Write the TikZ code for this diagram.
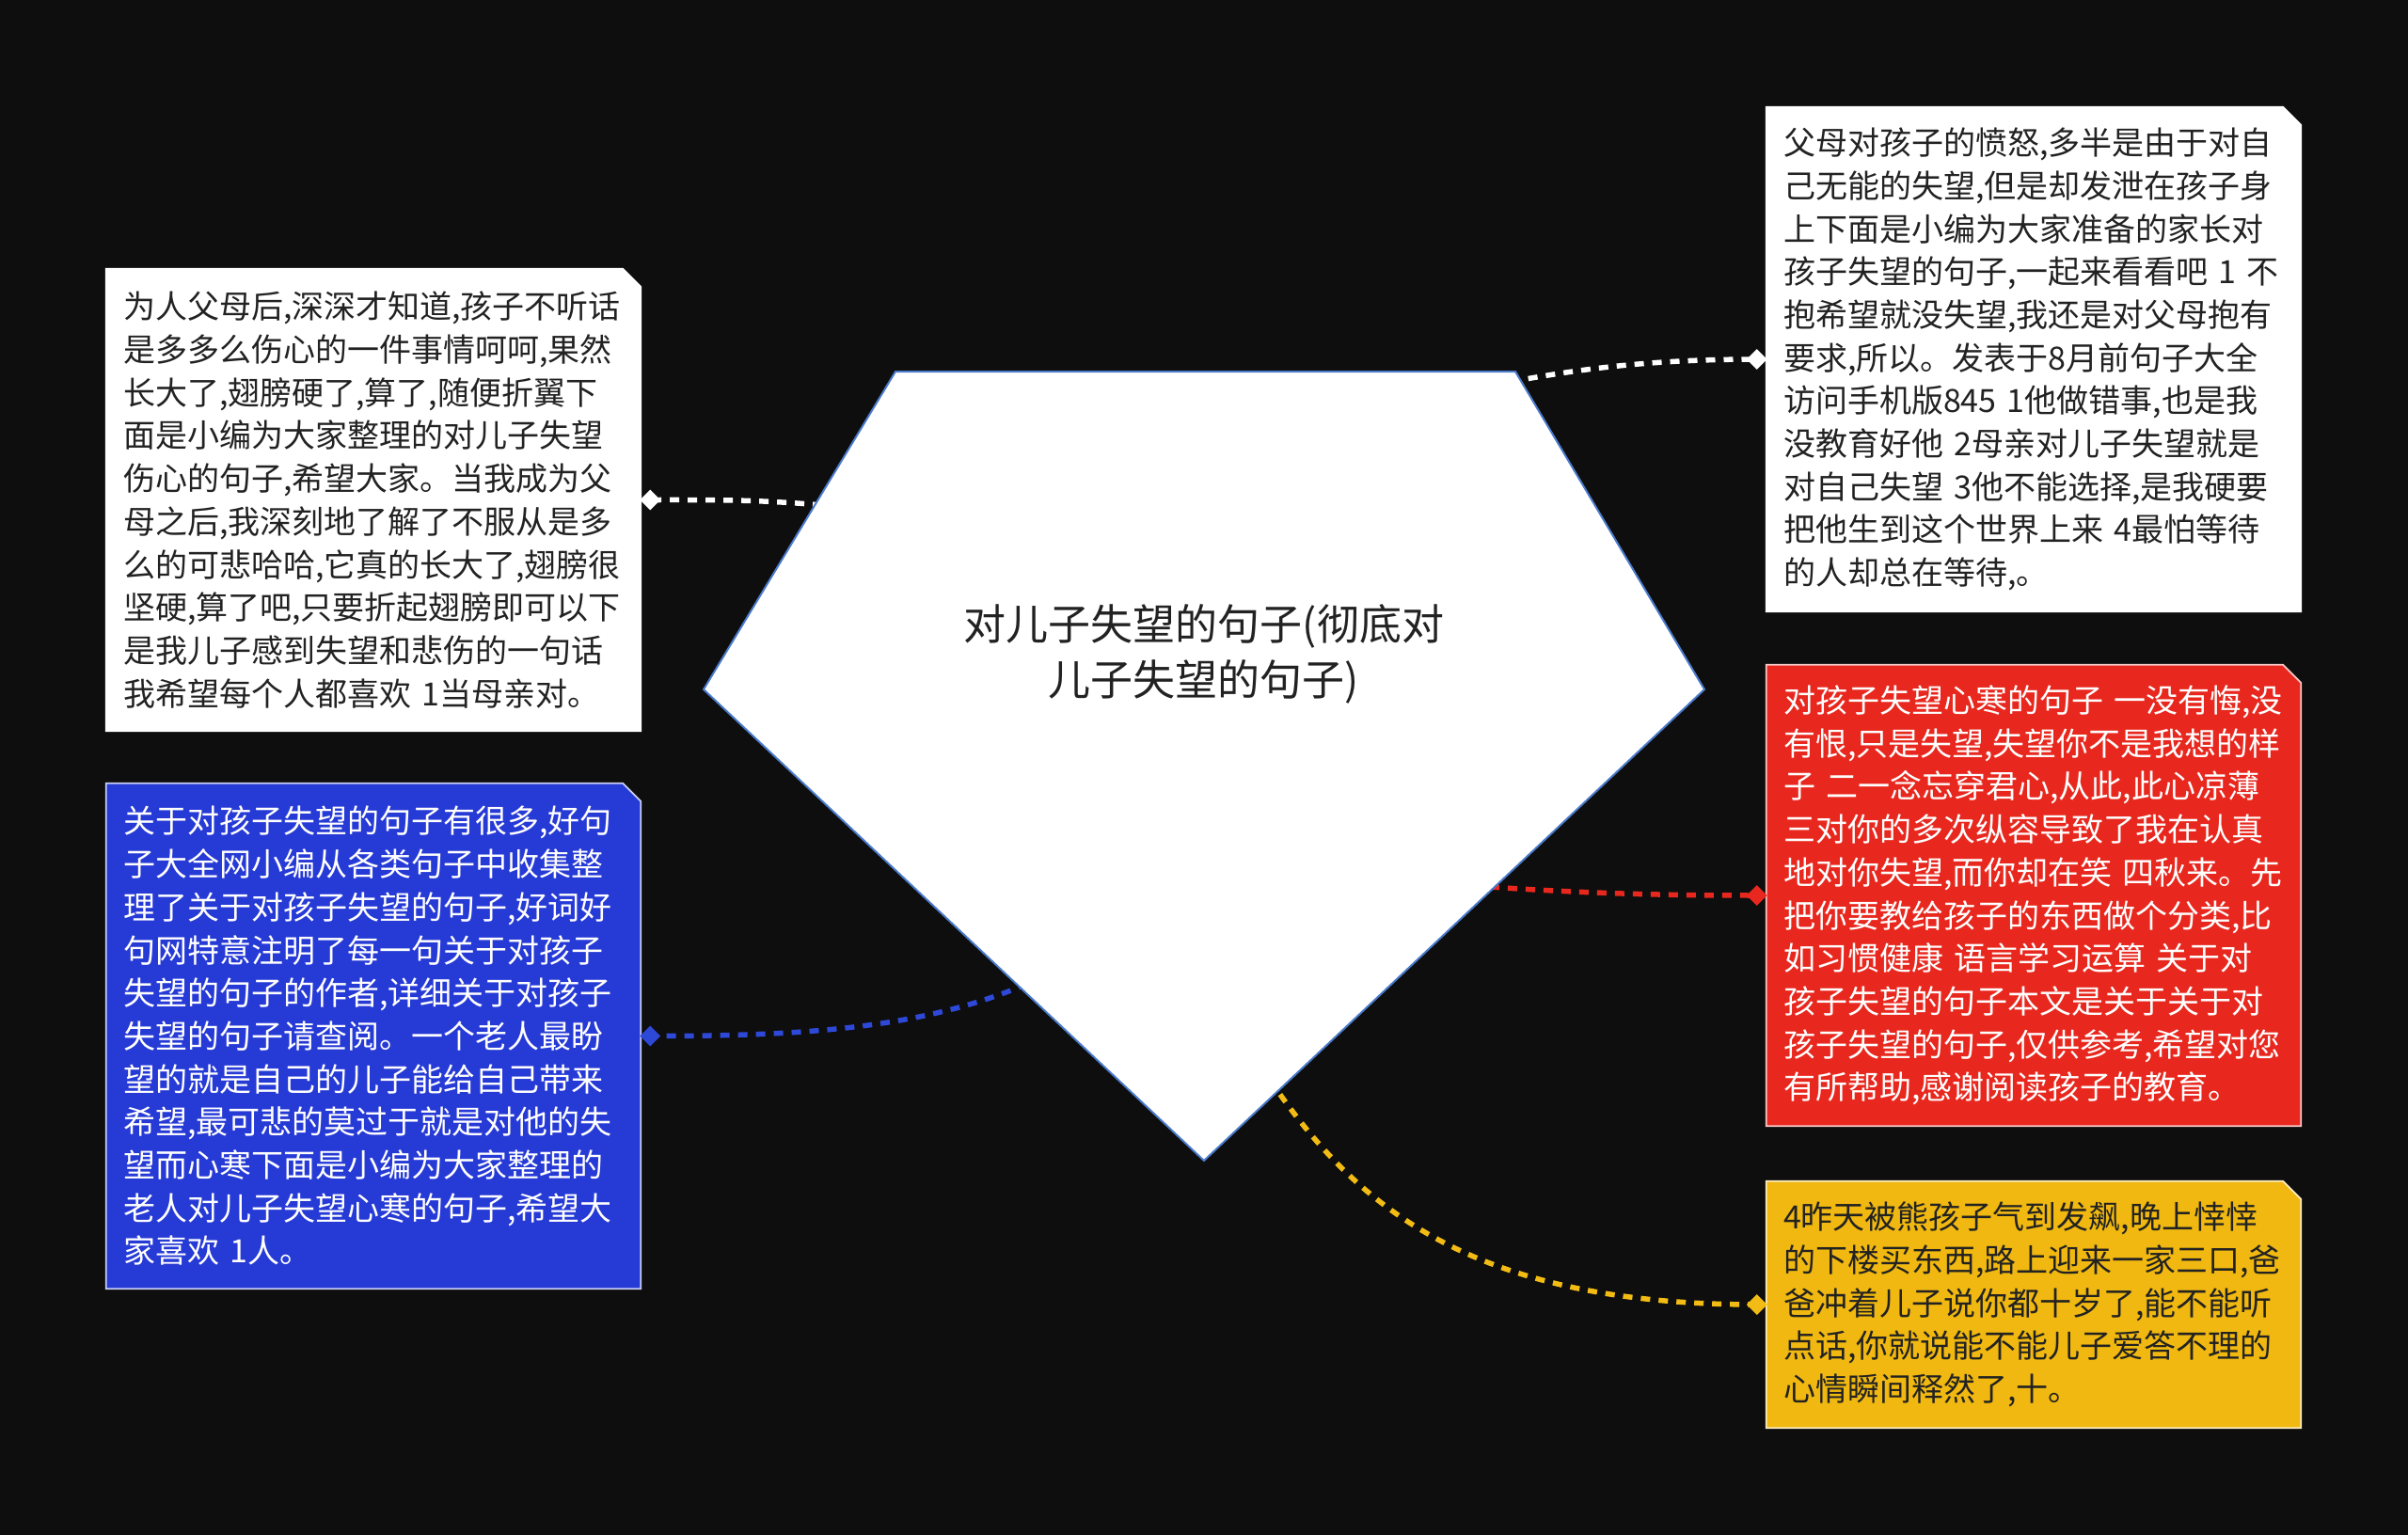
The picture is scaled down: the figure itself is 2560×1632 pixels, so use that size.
\documentclass[tikz,border=0pt]{standalone}
\usepackage{fontspec}
\newfontfamily\cjk{Noto Sans CJK SC}
\usetikzlibrary{shapes.geometric}
\definecolor{bgc}{RGB}{14,14,14}
\definecolor{redc}{RGB}{232,40,30}
\definecolor{bluec}{RGB}{38,58,214}
\definecolor{yelc}{RGB}{240,184,16}
\definecolor{bluel}{RGB}{46,72,216}
\definecolor{yell}{RGB}{242,188,20}
\definecolor{gemb}{RGB}{74,123,203}
\definecolor{darkt}{RGB}{34,34,34}
\pgfdeclarelayer{bglayer}
\pgfdeclarelayer{linklayer}
\pgfdeclarelayer{shapelayer}
\pgfsetlayers{bglayer,linklayer,shapelayer,main}
\newcommand\chambox[3]{%
  \filldraw[fill=#2, draw=#3, line width=1.8pt, line join=miter]
    (#1.south west) -- (#1.north west) -- ([xshift=-19pt]#1.north east)
    -- ([yshift=-19pt]#1.north east) -- (#1.south east) -- cycle;}
\begin{document}
\begin{tikzpicture}[x=1pt,y=-1pt,
  boxtext/.style={inner xsep=18pt, inner ysep=0pt, text width=532pt, align=left,
    font=\cjk\fontsize{34pt}{45.7pt}\selectfont},
  roottext/.style={inner sep=0pt, align=center, text=darkt,
    font=\cjk\fontsize{45pt}{59pt}\selectfont},
  marker/.style={diamond, inner sep=0pt, minimum width=22pt, minimum height=22pt},
  link/.style={line width=5.5pt, dash pattern=on 10pt off 9pt}]
\useasboundingbox (0,0) rectangle (2560,1632);
% text nodes
\node[roottext] (root) at (1280,695) {对儿子失望的句子(彻底对\\儿子失望的句子)};
\node[boxtext, text=darkt, minimum height=491pt] (b1) at (397,531.5) {%
为人父母后,深深才知道,孩子不听话\\
是多多么伤心的一件事情呵呵,果然\\
长大了,翅膀硬了,算了,随便折翼下\\
面是小编为大家整理的对儿子失望\\
伤心的句子,希望大家。当我成为父\\
母之后,我深刻地了解了不服从是多\\
么的可悲哈哈,它真的长大了,翅膀很\\
坚硬,算了吧,只要折起翅膀即可以下\\
是我儿子感到失望和悲伤的一句话\\
我希望每个人都喜欢~1当母亲对。};
\node[boxtext, text=darkt, minimum height=536pt] (b2) at (2162,382) {%
父母对孩子的愤怒,多半是由于对自\\
己无能的失望,但是却发泄在孩子身\\
上下面是小编为大家准备的家长对\\
孩子失望的句子,一起来看看吧~1~不\\
抱希望就没失望,我还是对父母抱有\\
要求,所以。发表于8月前句子大全\\
访问手机版845~1他做错事,也是我\\
没教育好他~2母亲对儿子失望就是\\
对自己失望~3他不能选择,是我硬要\\
把他生到这个世界上来~4最怕等待\\
的人却总在等待,。};
\node[boxtext, text=white, minimum height=490pt] (b3) at (2162,952) {%
对孩子失望心寒的句子~一没有悔,没\\
有恨,只是失望,失望你不是我想的样\\
子~二一念忘穿君心,从此,此心凉薄\\
三对你的多次纵容导致了我在认真\\
地对你失望,而你却在笑~四秋来。先\\
把你要教给孩子的东西做个分类,比\\
如习惯健康~语言学习运算~关于对\\
孩子失望的句子本文是关于关于对\\
孩子失望的句子,仅供参考,希望对您\\
有所帮助,感谢阅读孩子的教育。};
\node[boxtext, text=white, minimum height=537pt] (b4) at (397,1101.5) {%
关于对孩子失望的句子有很多,好句\\
子大全网小编从各类句子中收集整\\
理了关于对孩子失望的句子,好词好\\
句网特意注明了每一句关于对孩子\\
失望的句子的作者,详细关于对孩子\\
失望的句子请查阅。一个老人最盼\\
望的就是自己的儿子能给自己带来\\
希望,最可悲的莫过于就是对他的失\\
望而心寒下面是小编为大家整理的\\
老人对儿子失望心寒的句子,希望大\\
家喜欢~1人。};
\node[boxtext, text=darkt, minimum height=262pt] (b5) at (2162,1387) {%
4昨天被熊孩子气到发飙,晚上悻悻\\
的下楼买东西,路上迎来一家三口,爸\\
爸冲着儿子说你都十岁了,能不能听\\
点话,你就说能不能儿子爱答不理的\\
心情瞬间释然了,十。};
% shapes
\begin{pgfonlayer}{shapelayer}
  \coordinate (gTL) at (952,395);
  \coordinate (gTR) at (1611,395);
  \coordinate (gR) at (1812,733);
  \coordinate (gB) at (1280,1234);
  \coordinate (gL) at (748,733);
  \filldraw[fill=white, draw=gemb, line width=2pt, line join=miter]
    (gTL) -- (gTR) -- (gR) -- (gB) -- (gL) -- cycle;
  \chambox{b1}{white}{white}
  \chambox{b2}{white}{white}
  \chambox{b3}{redc}{white!75!redc}
  \chambox{b4}{bluec}{white!75!bluec}
  \chambox{b5}{yelc}{white!75!yelc}
  \node[marker, fill=white] (m1) at ([xshift=10pt]b1.east) {};
  \node[marker, fill=white] (m2) at ([xshift=-10pt]b2.west) {};
  \node[marker, fill=redc] (m3) at ([xshift=-10pt]b3.west) {};
  \node[marker, fill=bluel] (m4) at ([xshift=10pt]b4.east) {};
  \node[marker, fill=yell] (m5) at ([xshift=-10pt]b5.west) {};
\end{pgfonlayer}
% connectors
\begin{pgfonlayer}{linklayer}
  \coordinate (g1) at (874,537);
  \coordinate (g2) at (1606,406);
  \coordinate (g3) at (1584,943);
  \coordinate (g4) at (1092,1046);
  \coordinate (g5) at (1350,1148);
  \draw[link, white] (g1) .. controls (800,531) and (760,531.5) .. (m1.center);
  \draw[link, white] (g2) .. controls (1700,388) and (1780,382) .. (m2.center);
  \draw[link, redc] (g3) .. controls (1690,950) and (1770,952) .. (m3.center);
  \draw[link, bluel] (g4) .. controls (980,1094) and (850,1101.5) .. (m4.center);
  \draw[link, yell] (g5) .. controls (1440,1280) and (1560,1387) .. (m5.center);
\end{pgfonlayer}
\begin{pgfonlayer}{bglayer}
  \fill[bgc] (0,0) rectangle (2560,1632);
\end{pgfonlayer}
\end{tikzpicture}
\end{document}
